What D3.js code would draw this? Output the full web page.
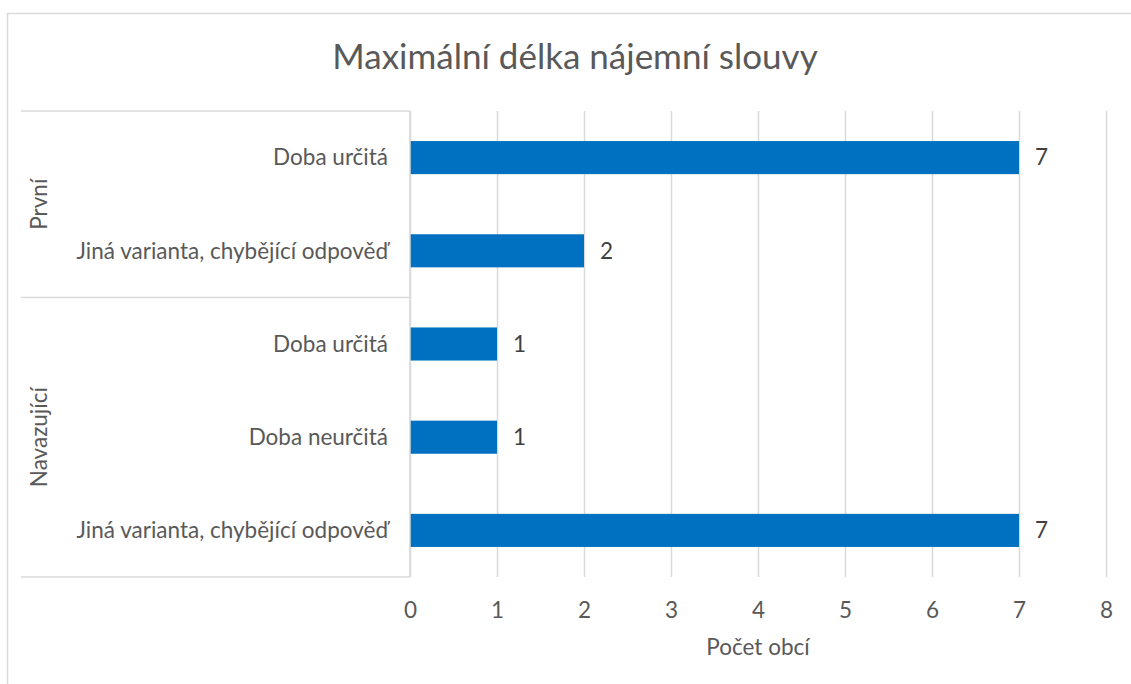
<!DOCTYPE html>
<html>
<head>
<meta charset="utf-8">
<script src="https://cdn.jsdelivr.net/npm/d3@7/dist/d3.min.js"></script>
<style>
  html, body { margin: 0; padding: 0; background: #fff; }
  svg { display: block; font-family: Lato, "Open Sans", sans-serif; }
</style>
</head>
<body>
<svg id="chart" width="1131" height="684"></svg>
<script>
// Data: groups and their categories with counts
const groups = ["První", "Navazující"];
const categories = [
  "Doba určitá",
  "Jiná varianta, chybějící odpověď",
  "Doba určitá",
  "Doba neurčitá",
  "Jiná varianta, chybějící odpověď"
];
const categoryGroup = ["První", "První", "Navazující", "Navazující", "Navazující"];
const values = [7, 2, 1, 1, 7];
const xTicks = [0, 1, 2, 3, 4, 5, 6, 7, 8];
const title = "Maximální délka nájemní slouvy";
const xTitle = "Počet obcí";

const svg = d3.select("#chart");
const W = 1131, H = 684;

const plot = { left: 410, right: 1106, top: 111, bottom: 577 };
const axisBoxLeft = 21;
const gridColor = "#d9d9d9";
const textColor = "#595959";
const labelSize = 22.5;

// Outer chart border
svg.append("rect")
  .attr("x", 7.5).attr("y", 13.5)
  .attr("width", W + 10).attr("height", H + 10)
  .attr("fill", "#fff")
  .attr("stroke", gridColor).attr("stroke-width", 1.5);

// Title
svg.append("text")
  .attr("x", 575).attr("y", 69)
  .attr("text-anchor", "middle")
  .attr("fill", textColor)
  .attr("font-size", 35)
  .text(title);

// Scales
const x = d3.scaleLinear().domain([0, 8]).range([plot.left, plot.right]);
const idx = d3.range(categories.length);
const y = d3.scaleBand()
  .domain(idx)
  .range([plot.top, plot.bottom])
  .paddingInner(0.645)
  .paddingOuter(0.3225);
const step = y.step();

// Vertical gridlines via axis
const gridAxis = d3.axisBottom(x).tickValues(xTicks)
  .tickSize(-(plot.bottom - plot.top)).tickFormat("");
const grid = svg.append("g")
  .attr("transform", `translate(0,${plot.bottom})`)
  .call(gridAxis);
grid.select(".domain").remove();
grid.selectAll(".tick line").attr("stroke", gridColor).attr("stroke-width", 1.5);

// X tick labels
const xAxis = d3.axisBottom(x).tickValues(xTicks).tickSize(0).tickPadding(0);
const xa = svg.append("g")
  .attr("transform", `translate(0,${plot.bottom})`)
  .call(xAxis);
xa.select(".domain").remove();
xa.selectAll(".tick text")
  .attr("y", 41)
  .attr("dy", 0)
  .attr("fill", textColor)
  .attr("font-size", labelSize)
  .attr("font-family", "Lato, sans-serif");

// X axis title
svg.append("text")
  .attr("x", (plot.left + plot.right) / 2).attr("y", 655)
  .attr("text-anchor", "middle")
  .attr("fill", textColor)
  .attr("font-size", labelSize)
  .text(xTitle);

// Category axis box: group separators
const groupBounds = groups.map(g => {
  const ids = idx.filter(i => categoryGroup[i] === g);
  const y0 = plot.top + d3.min(ids) * step;
  const y1 = plot.top + (d3.max(ids) + 1) * step;
  return { g, y0, y1 };
});
const sepYs = [plot.top, ...groupBounds.map(b => b.y1)];
svg.append("g").selectAll("line").data(sepYs).join("line")
  .attr("x1", axisBoxLeft).attr("x2", plot.left)
  .attr("y1", d => d).attr("y2", d => d)
  .attr("stroke", gridColor).attr("stroke-width", 1.5);

// Group labels (rotated)
svg.append("g").selectAll("text").data(groupBounds).join("text")
  .attr("transform", d => `translate(47,${(d.y0 + d.y1) / 2}) rotate(-90)`)
  .attr("text-anchor", "middle")
  .attr("fill", textColor)
  .attr("font-size", labelSize)
  .text(d => d.g);

// Category labels
svg.append("g").selectAll("text").data(idx).join("text")
  .attr("x", 388)
  .attr("y", i => y(i) + y.bandwidth() / 2)
  .attr("dy", "0.35em")
  .attr("text-anchor", "end")
  .attr("fill", textColor)
  .attr("font-size", labelSize)
  .text(i => categories[i]);

// Bars
svg.append("g").selectAll("rect").data(idx).join("rect")
  .attr("x", x(0))
  .attr("y", i => y(i))
  .attr("width", i => x(values[i]) - x(0))
  .attr("height", y.bandwidth())
  .attr("fill", "#0070c0");

// Value labels
svg.append("g").selectAll("text").data(idx).join("text")
  .attr("x", i => x(values[i]) + 16)
  .attr("y", i => y(i) + y.bandwidth() / 2)
  .attr("dy", "0.35em")
  .attr("fill", "#404040")
  .attr("font-size", labelSize)
  .text(i => values[i]);

// Category axis line
svg.append("line")
  .attr("x1", plot.left).attr("x2", plot.left)
  .attr("y1", plot.top).attr("y2", plot.bottom)
  .attr("stroke", gridColor).attr("stroke-width", 1.5);
</script>
</body>
</html>
